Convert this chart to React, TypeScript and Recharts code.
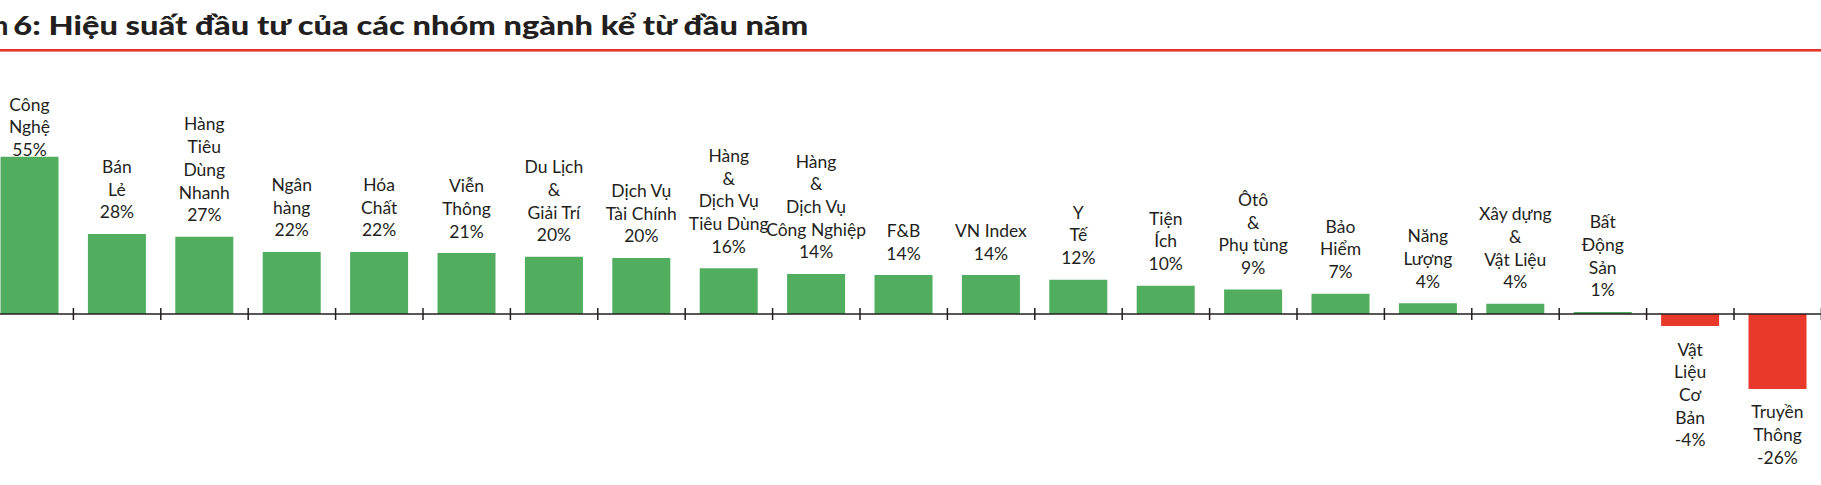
import React from 'react';
import { BarChart, Bar, XAxis, YAxis, Cell, LabelList, ReferenceLine } from 'recharts';

const categories: string[] = [
  'Công\nNghệ',
  'Bán\nLẻ',
  'Hàng\nTiêu\nDùng\nNhanh',
  'Ngân\nhàng',
  'Hóa\nChất',
  'Viễn\nThông',
  'Du Lịch\n&\nGiải Trí',
  'Dịch Vụ\nTài Chính',
  'Hàng\n&\nDịch Vụ\nTiêu Dùng',
  'Hàng\n&\nDịch Vụ\nCông Nghiệp',
  'F&B',
  'VN Index',
  'Y\nTế',
  'Tiện\nÍch',
  'Ôtô\n&\nPhụ tùng',
  'Bảo\nHiểm',
  'Năng\nLượng',
  'Xây dựng\n&\nVật Liệu',
  'Bất\nĐộng\nSản',
  'Vật\nLiệu\nCơ\nBản',
  'Truyền\nThông',
];

const values: number[] = [
  55, 28, 27, 21.7, 21.7, 21.3, 20, 19.6, 16, 14, 13.6, 13.6, 12, 9.9, 8.6, 7.1, 3.8, 3.6, 0.7, -4.2, -26.2,
];

const TITLE_PREFIX = 'Hình';
const TITLE = '6: Hiệu suất đầu tư của các nhóm ngành kể từ đầu năm';

const POS_COLOR = '#50ae5e';
const NEG_COLOR = '#e8392a';
const TEXT_COLOR = '#231f20';
const FONT = 'Lato, "Open Sans", sans-serif';

const data = categories.map((name, i) => ({
  id: name.replace(/\n/g, ' '),
  name,
  value: values[i],
}));

const LH = 22.7;
const K = 2.86; // px per %
const ZERO_Y = 314;
const Y_MAX = 60;
const Y_MIN = -30;
const CHART_H = 485;
const PLOT_TOP = ZERO_Y - Y_MAX * K;
const PLOT_BOTTOM = ZERO_Y - Y_MIN * K;
const BAND = 87.4;
const CHART_W = BAND * categories.length;
const LABEL_MIN_FIRST_BASELINE = 110.7;

const renderLabel = (props: any) => {
  const vb = props.viewBox ?? props;
  const x = Number(vb.x ?? props.x);
  const y = Number(vb.y ?? props.y);
  const width = Number(vb.width ?? props.width);
  const height = Number(vb.height ?? props.height);
  const index = props.index as number;
  const v = values[index];
  const lines = [...categories[index].split('\n'), `${Math.round(v)}%`];
  const cx = x + width / 2;
  const top = Math.min(y, y + height);
  const bottom = Math.max(y, y + height);
  let baselines: number[];
  if (v >= 0) {
    let first = top - 15.5 - (lines.length - 1) * LH;
    if (first < LABEL_MIN_FIRST_BASELINE) first = LABEL_MIN_FIRST_BASELINE;
    baselines = lines.map((_, i) => first + i * LH);
  } else {
    baselines = lines.map((_, i) => bottom + 29.5 + i * LH);
  }
  return (
    <text
      key={`lbl-${index}`}
      textAnchor="middle"
      fill={TEXT_COLOR}
      fontFamily={FONT}
      fontSize={17.5}
    >
      {lines.map((l, i) => (
        <tspan key={i} x={cx} y={baselines[i]}>
          {l}
        </tspan>
      ))}
    </text>
  );
};

export default function App() {
  return (
    <div
      style={{
        position: 'absolute',
        left: 0,
        top: 0,
        width: 1821,
        height: 485,
        overflow: 'hidden',
        background: '#ffffff',
      }}
    >
      <svg
        width={1821}
        height={60}
        style={{ position: 'absolute', left: 0, top: 0 }}
      >
        <text
          x={8.3}
          y={34.5}
          textAnchor="end"
          fontFamily={FONT}
          fontWeight={900}
          fontSize={27}
          fill={TEXT_COLOR}
        >
          {TITLE_PREFIX}
        </text>
        <text
          x={13.3}
          y={34.5}
          fontFamily={FONT}
          fontWeight={900}
          fontSize={27}
          fill={TEXT_COLOR}
          textLength={795}
          lengthAdjust="spacingAndGlyphs"
        >
          {TITLE}
        </text>
        <rect x={0} y={49} width={1821} height={2} fill="#e2352b" />
        <rect x={0} y={51} width={1821} height={1} fill="#ef8a82" />
      </svg>
      <div style={{ position: 'absolute', left: -14.2, top: 0 }}>
        <BarChart
          width={CHART_W}
          height={CHART_H}
          data={data}
          margin={{ top: PLOT_TOP, bottom: CHART_H - PLOT_BOTTOM, left: 0, right: 0 }}
          barCategoryGap="16.6%"
        >
          <XAxis dataKey="id" hide />
          <YAxis hide domain={[Y_MIN, Y_MAX]} allowDataOverflow />
          <ReferenceLine y={0} stroke={TEXT_COLOR} strokeWidth={1.5} />
          {data.map((d) => (
            <ReferenceLine
              key={`tick-${d.id}`}
              segment={[
                { x: d.id, y: -2.1 },
                { x: d.id, y: 2.1 },
              ]}
              position="end"
              stroke={TEXT_COLOR}
              strokeWidth={1.5}
              ifOverflow="visible"
            />
          ))}
          <Bar dataKey="value" isAnimationActive={false}>
            {data.map((d) => (
              <Cell key={d.id} fill={d.value >= 0 ? POS_COLOR : NEG_COLOR} />
            ))}
            <LabelList dataKey="value" content={renderLabel} />
          </Bar>
        </BarChart>
      </div>
    </div>
  );
}
